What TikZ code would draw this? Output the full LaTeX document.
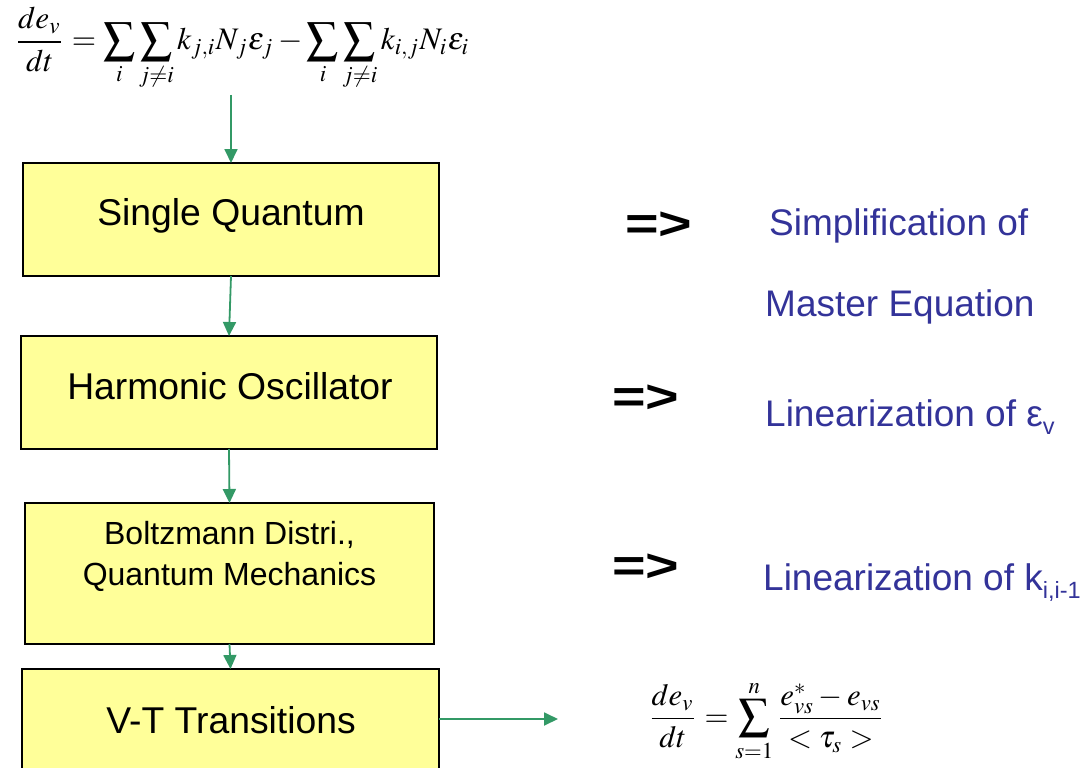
\documentclass[tikz,border=0pt]{standalone}
\usepackage{mathptmx}
\usepackage[no-math]{fontspec}
\setmainfont{Liberation Sans}
\usetikzlibrary{arrows.meta}

\definecolor{boxfill}{RGB}{255,255,153}
\definecolor{flowgreen}{RGB}{51,153,102}
\definecolor{notetext}{RGB}{51,51,153}

\tikzset{
  stagebox/.style={draw=black, line width=1.6pt, fill=boxfill, rectangle,
    inner sep=0pt, outer sep=0pt},
  stagetext/.style={anchor=base, inner sep=0pt, font=\fontsize{37.3}{37}\selectfont},
  flow/.style={draw=flowgreen, line width=1.8pt,
    -{Triangle[length=14pt,width=13pt]}},
  implies/.style={anchor=base west, inner sep=0pt,
    font=\fontsize{46}{46}\selectfont\bfseries},
  note/.style={anchor=base west, inner sep=0pt, text=notetext,
    font=\fontsize{37}{37}\selectfont},
}
\newcommand{\lowsub}[1]{\raisebox{-0.22em}{\fontsize{23.5}{23.5}\selectfont #1}}
\newcommand{\wideimplies}{\scalebox{1.25}[1]{=>}}

\begin{document}
\begin{tikzpicture}[x=1pt, y=-1pt]
\useasboundingbox (0,0) rectangle (1088,768);
\clip (0,0) rectangle (1088,768);

% master equation
\node[inner sep=0pt] (master) at (242,49)
  {\resizebox{455pt}{!}{$\displaystyle \frac{de_v}{dt}=\sum_i\sum_{j\neq i}k_{j,i}N_j\varepsilon_j-\sum_i\sum_{j\neq i}k_{i,j}N_i\varepsilon_i$}};
\coordinate (mastertail) at (231,95);

% stages
\node[stagebox, minimum width=416pt, minimum height=113pt] (sq) at (231,219.5) {};
\node[stagebox, minimum width=416pt, minimum height=113pt] (ho) at (229,392.5) {};
\node[stagebox, minimum width=409pt, minimum height=141pt] (bd) at (229.5,573.5) {};
\node[stagebox, minimum width=417pt, minimum height=100pt] (vt) at (230.5,719) {};

\node[stagetext] (sqtext) at (231,225) {Single Quantum};
\node[stagetext] (hotext) at (230,399) {Harmonic Oscillator};
\node[stagetext, font=\fontsize{32}{32}\selectfont] (bdtext1) at (229.5,544) {Boltzmann Distri.,};
\node[stagetext, font=\fontsize{32}{32}\selectfont] (bdtext2) at (229.5,585) {Quantum Mechanics};
\node[stagetext] (vttext) at (231,733) {V-T Transitions};

% flow
\draw[flow] (mastertail) -- (sq.north);
\draw[flow] (sq.south) -- (ho.north);
\draw[flow] (ho.south) -- (bd.north);
\draw[flow] (bd.south) -- (vt.north);
\coordinate (vthead) at (558,719);
\draw[flow] (vt.east) -- (vthead);

% relaxation equation
\node[inner sep=0pt] (relax) at (766.5,721)
  {\resizebox{237pt}{!}{$\displaystyle \frac{de_v}{dt}=\sum_{s=1}^{n}\frac{e^*_{vs}-e_{vs}}{<\tau_s>}$}};

% consequences
\node[implies] (imp1) at (625,239) {\wideimplies};
\node[implies] (imp2) at (612,412) {\wideimplies};
\node[implies] (imp3) at (612,581) {\wideimplies};

\node[note] (n1a) at (769,235) {Simplification of};
\node[note] (n1b) at (765,316) {Master Equation};
\node[note] (n2) at (765,426) {Linearization of ε\lowsub{v}};
\node[note] (n3) at (763,590) {Linearization of k\lowsub{i,i-1}};
\end{tikzpicture}
\end{document}
